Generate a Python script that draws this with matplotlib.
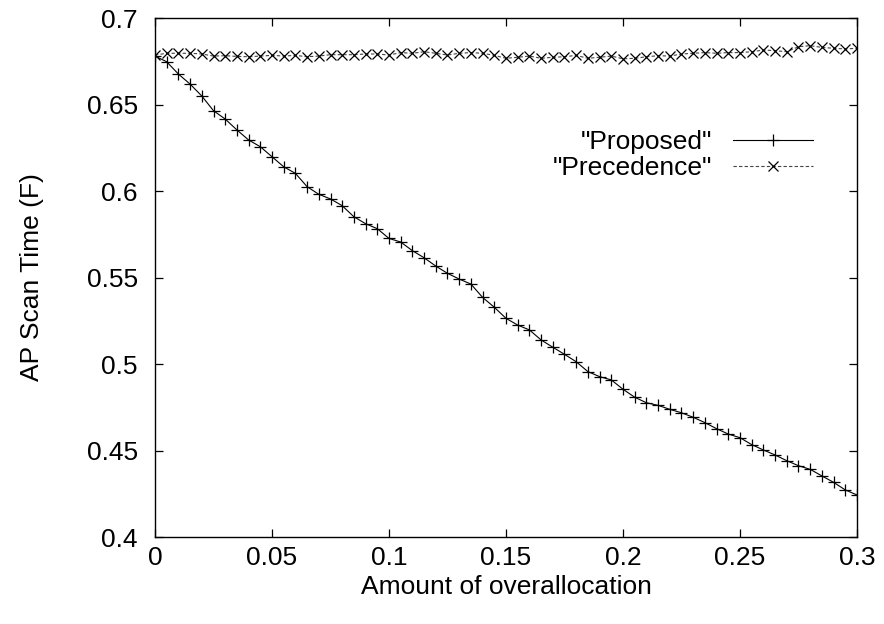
import numpy as np
import matplotlib
matplotlib.use("Agg")
from matplotlib import pyplot as plt

# overallocation steps 0 .. 0.3 by 0.005
overalloc = np.round(np.arange(61) * 0.005, 3)

proposed = [0.678, 0.6747, 0.6676, 0.6618, 0.6549, 0.6464, 0.6416, 0.6353, 0.6295, 0.6256,
            0.6198, 0.6140, 0.6102, 0.6025, 0.5981, 0.5954, 0.5915, 0.5851, 0.5811, 0.5782,
            0.5726, 0.5705, 0.5655, 0.5614, 0.5566, 0.5524, 0.5491, 0.5462, 0.5385, 0.5328,
            0.5264, 0.5225, 0.5197, 0.5139, 0.5097, 0.5056, 0.5013, 0.4956, 0.4927, 0.4908,
            0.4854, 0.4808, 0.4776, 0.4761, 0.4738, 0.4718, 0.4692, 0.4661, 0.4626, 0.4595,
            0.4574, 0.4534, 0.4503, 0.4474, 0.4441, 0.4412, 0.4391, 0.4353, 0.4316, 0.4272,
            0.4243]

precedence = [0.6786, 0.6796, 0.6796, 0.6796, 0.6792, 0.6780, 0.6782, 0.6778, 0.6776, 0.6780,
              0.6784, 0.6780, 0.6784, 0.6776, 0.6780, 0.6788, 0.6788, 0.6788, 0.6792, 0.6792,
              0.6786, 0.6800, 0.6796, 0.6805, 0.6796, 0.6786, 0.6796, 0.6800, 0.6796, 0.6784,
              0.6767, 0.6773, 0.6780, 0.6767, 0.6773, 0.6776, 0.6784, 0.6767, 0.6773, 0.6780,
              0.6764, 0.6767, 0.6776, 0.6782, 0.6780, 0.6792, 0.6796, 0.6800, 0.6796, 0.6800,
              0.6800, 0.6805, 0.6815, 0.6811, 0.6805, 0.6834, 0.6840, 0.6830, 0.6825, 0.6821,
              0.6825]

xticks = [0, 0.05, 0.1, 0.15, 0.2, 0.25, 0.3]
xtick_labels = ["0", "0.05", "0.1", "0.15", "0.2", "0.25", "0.3"]
yticks = [0.4, 0.45, 0.5, 0.55, 0.6, 0.65, 0.7]
ytick_labels = ["0.4", "0.45", "0.5", "0.55", "0.6", "0.65", "0.7"]

plt.rcParams['font.family'] = ['Liberation Sans', 'DejaVu Sans']
FS = 19

fig = plt.figure(figsize=(8.84, 6.24), dpi=100)
ax = fig.add_axes([155/884, 1-537/624, 702/884, 519/624])

ax.plot(overalloc, proposed, color='black', lw=0.8, marker='+', ms=8, mew=0.9,
        label='"Proposed"')
ax.plot(overalloc, precedence, color='#444444', lw=0.8, ls=(0, (3, 2)), marker='x',
        ms=6.5, mew=0.9, mec='black', label='"Precedence"')

ax.set_xlim(0, 0.3)
ax.set_ylim(0.4, 0.7)
ax.set_xticks(xticks)
ax.set_xticklabels(xtick_labels)
ax.set_yticks(yticks)
ax.set_yticklabels(ytick_labels)
ax.tick_params(direction='in', length=6, width=0.9, top=True, right=True, labelsize=FS)
ax.tick_params(axis='x', pad=6.5)
ax.tick_params(axis='y', pad=12.5)
for s in ax.spines.values():
    s.set_linewidth(1.0)

ax.set_xlabel('Amount of overallocation', fontsize=FS)
ax.set_ylabel('AP Scan Time (F)', fontsize=FS)
ax.xaxis.set_label_coords(0.5, -0.074)
ax.yaxis.set_label_coords(-0.158, 0.5)

ax.legend(loc='center right', bbox_to_anchor=(813/884, 1-155/624),
          bbox_transform=fig.transFigure, frameon=False, markerfirst=False,
          numpoints=1, handlelength=3.03, handletextpad=0.8, borderpad=0,
          borderaxespad=0, labelspacing=0.07, fontsize=FS)

fig.savefig('out.png', dpi=100)
